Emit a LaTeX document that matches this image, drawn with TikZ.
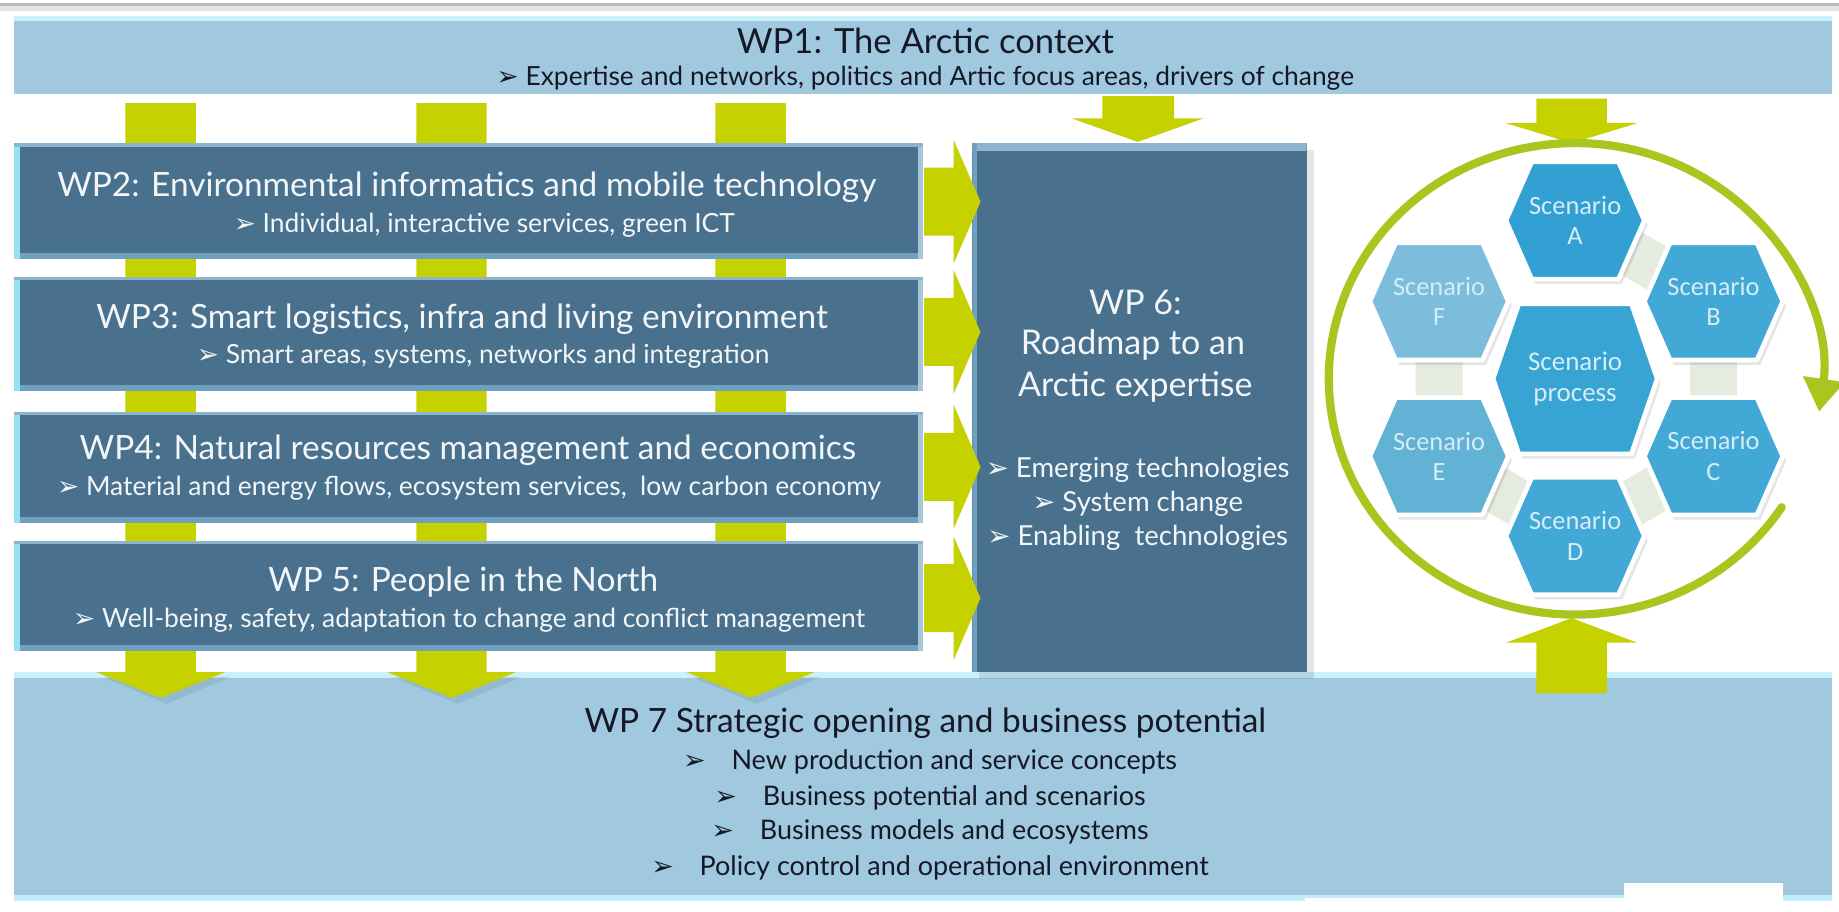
\documentclass[tikz,border=0pt]{standalone}
\usepackage{fontspec}
\setmainfont{Lato}
\newfontfamily\dvfont{DejaVu Sans}
\newfontfamily\carfont{Carlito}
\usetikzlibrary{arrows.meta}
\definecolor{wpdark}{RGB}{73,113,141}
\definecolor{wplight}{RGB}{160,201,224}
\definecolor{edgecyan}{RGB}{150,225,242}
\definecolor{edgeblue}{RGB}{112,160,192}
\definecolor{arrowy}{RGB}{198,209,0}
\definecolor{ringg}{RGB}{168,198,30}
\definecolor{txtdark}{RGB}{22,24,38}
\definecolor{txtlight}{RGB}{242,246,249}
\definecolor{hexA}{RGB}{50,160,211}
\definecolor{hexP}{RGB}{56,164,212}
\definecolor{hexB}{RGB}{66,169,215}
\definecolor{hexE}{RGB}{98,178,214}
\definecolor{hexF}{RGB}{124,189,219}
\definecolor{hextxt}{RGB}{214,236,247}
\definecolor{linkc}{RGB}{214,222,204}
\newcommand\bul{{\dvfont\char"27A2}}
\newcommand\hexa[6]{%
  \fill[black,opacity=0.10] (#1-#3+3,#2+4) -- (#1-#4+3,#2-#5+4) -- (#1+#4+3,#2-#5+4) -- (#1+#3+3,#2+4) -- (#1+#4+3,#2+#5+4) -- (#1-#4+3,#2+#5+4) -- cycle;
  \path[fill=#6, draw=white, line width=4pt, line join=round] (#1-#3,#2) -- (#1-#4,#2-#5) -- (#1+#4,#2-#5) -- (#1+#3,#2) -- (#1+#4,#2+#5) -- (#1-#4,#2+#5) -- cycle;}
\tikzset{
  darkbox/.style={fill=wpdark, inner sep=0pt, path picture={
    \fill[edgeblue] ([yshift=5pt]path picture bounding box.south west) rectangle (path picture bounding box.south east);
    \fill[edgeblue!60!white] ([xshift=-4pt]path picture bounding box.north east) rectangle (path picture bounding box.south east);
    \fill[edgecyan] (path picture bounding box.north west) rectangle ([xshift=5pt]path picture bounding box.south west);
    \fill[edgeblue!80!white] (path picture bounding box.north west) rectangle ([yshift=-3pt]path picture bounding box.north east);
  }},
  sixbox/.style={fill=wpdark, inner sep=0pt, path picture={
    \fill[edgeblue!80!white] (path picture bounding box.north west) rectangle ([yshift=-7pt]path picture bounding box.north east);
    \fill[edgeblue] (path picture bounding box.north west) rectangle ([xshift=4pt]path picture bounding box.south west);
  }},
  lightbox/.style={fill=wplight, inner sep=0pt, path picture={
    \fill[edgecyan!50!white] (path picture bounding box.north west) rectangle ([yshift=-4pt]path picture bounding box.north east);
  }},
  sevenbox/.style={fill=wplight, inner sep=0pt, path picture={
    \fill[edgecyan!50!white] (path picture bounding box.north west) rectangle ([yshift=-5pt]path picture bounding box.north east);
    \fill[edgecyan!60!white] ([yshift=5pt]path picture bounding box.south west) rectangle (path picture bounding box.south east);
  }},
  wt/.style={text=txtlight, inner sep=0pt, anchor=center},
  dt/.style={text=txtdark, inner sep=0pt, anchor=center},
  hext/.style={text=hextxt, inner sep=0pt, align=center, font=\carfont\fontsize{22.5}{26}\selectfont},
  yarrow/.style={fill=arrowy},
  ttl/.style={font=\fontsize{28.5}{32}\selectfont},
  sub/.style={font=\fontsize{22.5}{26}\selectfont},
}
\begin{document}
\begin{tikzpicture}[x=1pt,y=-1pt]
\useasboundingbox (0,0) rectangle (1568,777);
\fill[white] (0,0) rectangle (1568,777);
% top grey line
\draw[gray!20, line width=7pt] (0,6) -- (1568,6);
\draw[gray!55, line width=2.5pt] (0,4) -- (1568,4);

% WP7 box
\node[sevenbox, minimum width=1550pt, minimum height=195pt] (wp7) at (787,670.5) {};

% column arrows WP1 -> WP7 (behind WP2..WP5)
\foreach \cx in {137,385,640}{
  \fill[black,opacity=0.08] (\cx-55+5,577) -- (\cx+55+5,577) -- (\cx+5,600) -- cycle;
  \fill[yarrow] (\cx-30,88) -- (\cx+30,88) -- (\cx+30,573) -- (\cx+55,573) -- (\cx,595) -- (\cx-55,573) -- (\cx-30,573) -- cycle;
}

% WP1 box
\node[lightbox, minimum width=1550pt, minimum height=66pt] (wp1) at (787,47) {};
\node[dt, font=\fontsize{29.5}{33}\selectfont] (wp1t) at (789,35) {WP1: The Arctic context};
\node[dt, sub] (wp1s) at (789,67) {\bul\ Expertise and networks, politics and Artic focus areas, drivers of change};

% WP2..WP5
\node[darkbox, minimum width=775pt, minimum height=99pt] (wp2) at (399.5,171.5) {};
\node[darkbox, minimum width=775pt, minimum height=97pt] (wp3) at (399.5,284.5) {};
\node[darkbox, minimum width=775pt, minimum height=95pt] (wp4) at (399.5,398.5) {};
\node[darkbox, minimum width=775pt, minimum height=94pt] (wp5) at (399.5,508) {};

\node[wt, ttl] (wp2t) at (398,160) {WP2: Environmental informatics and mobile technology};
\node[wt, sub] (wp2s) at (413,192) {\bul\ Individual, interactive services, green ICT};
\node[wt, ttl] (wp3t) at (394,272) {WP3: Smart logistics, infra and living environment};
\node[wt, sub] (wp3s) at (412,304) {\bul\ Smart areas, systems, networks and integration};
\node[wt, ttl] (wp4t) at (399,384) {WP4: Natural resources management and economics};
\node[wt, sub] (wp4s) at (400,416) {\bul\ Material and energy flows, ecosystem services,\ \ low carbon economy};
\node[wt, ttl] (wp5t) at (395,496) {WP 5: People in the North};
\node[wt, sub] (wp5s) at (400,529) {\bul\ Well-being, safety, adaptation to change and conflict management};

% WP6 box
\fill[black,opacity=0.10] (835,128) rectangle (1120,579);
\node[sixbox, minimum width=285pt, minimum height=451pt] (wp6) at (971.5,347.5) {};
\node[wt, font=\fontsize{29}{33}\selectfont] (wp6a) at (968,258) {WP 6:};
\node[wt, font=\fontsize{29}{33}\selectfont] (wp6b) at (966,294) {Roadmap to an};
\node[wt, font=\fontsize{29}{33}\selectfont] (wp6c) at (968,330) {Arctic expertise};
\node[wt, font=\fontsize{23.5}{27}\selectfont] (wp6d) at (970,401) {\bul\ Emerging technologies};
\node[wt, font=\fontsize{23.5}{27}\selectfont] (wp6e) at (970,430) {\bul\ System change};
\node[wt, font=\fontsize{23.5}{27}\selectfont] (wp6f) at (970,459) {\bul\ Enabling\ \ technologies};

% right arrows WP2..5 -> WP6
\foreach \cy in {172,283,398,510}{
  \fill[yarrow] (788,\cy-29) -- (813,\cy-29) -- (813,\cy-53) -- (836,\cy) -- (813,\cy+53) -- (813,\cy+29) -- (788,\cy+29) -- cycle;
}

% WP1 -> WP6 arrow
\fill[yarrow] (940,82) -- (1001,82) -- (1001,101) -- (1026,101) -- (970,121) -- (914,101) -- (940,101) -- cycle;
% WP1 -> circle arrow
\fill[yarrow] (1310,84) -- (1370,84) -- (1370,105) -- (1396,105) -- (1340,122) -- (1284,105) -- (1310,105) -- cycle;

% WP7 text
\node[dt, font=\fontsize{28.5}{32}\selectfont] (wp7t) at (789,617) {WP 7 Strategic opening and business potential};
\node[dt, font=\fontsize{23}{27}\selectfont] (wp7a) at (793,650) {\bul\hspace{22pt}New production and service concepts};
\node[dt, font=\fontsize{23}{27}\selectfont] (wp7b) at (793,680) {\bul\hspace{22pt}Business potential and scenarios};
\node[dt, font=\fontsize{23}{27}\selectfont] (wp7c) at (793,709) {\bul\hspace{22pt}Business models and ecosystems};
\node[dt, font=\fontsize{23}{27}\selectfont] (wp7d) at (793,740) {\bul\hspace{22pt}Policy control and operational environment};

% WP7 -> circle arrow
\fill[yarrow] (1310,591) -- (1370,591) -- (1370,548) -- (1396,548) -- (1340,527) -- (1284,548) -- (1310,548) -- cycle;

% white patches
\fill[white] (1113,766) rectangle (1520,777);
\fill[white] (1385,753) rectangle (1520,777);

% circle
\draw[ringg, line width=7pt, line cap=round, -{Triangle[width=34pt,length=28pt]}]
  (1343,323) ++(33:210 and 201) arc[start angle=33, end angle=368, x radius=210, y radius=201];

% hexagon cluster
\coordinate (cA) at (1343,188);
\coordinate (cB) at (1461,257);
\coordinate (cC) at (1461,389);
\coordinate (cD) at (1343,457);
\coordinate (cE) at (1227,389);
\coordinate (cF) at (1227,257);
\coordinate (cP) at (1343,323);
\draw[linkc, line width=40pt, opacity=0.6] (cA) -- (cB) -- (cC) -- (cD) -- (cE) -- (cF);
\hexa{1343}{188}{59}{37}{50}{hexA}
\hexa{1461}{257}{59}{37}{50}{hexB}
\hexa{1461}{389}{59}{37}{50}{hexB}
\hexa{1343}{457}{59}{37}{50}{hexB}
\hexa{1227}{389}{59}{37}{50}{hexE}
\hexa{1227}{257}{59}{37}{50}{hexF}
\hexa{1343}{323}{70}{48}{64}{hexP}
\node[hext] (tA) at (cA) {Scenario\\A};
\node[hext] (tB) at (cB) {Scenario\\B};
\node[hext] (tC) at (cC) {Scenario\\C};
\node[hext] (tD) at (cD) {Scenario\\D};
\node[hext] (tE) at (cE) {Scenario\\E};
\node[hext] (tF) at (cF) {Scenario\\F};
\node[hext, font=\carfont\fontsize{23}{26}\selectfont] (tP) at (cP) {Scenario\\process};
\end{tikzpicture}
\end{document}
